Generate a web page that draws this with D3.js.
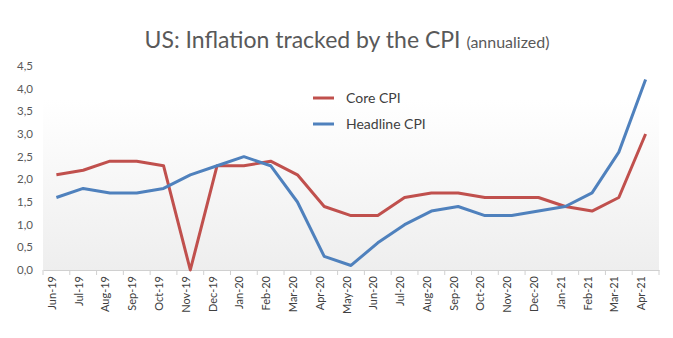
<!DOCTYPE html>
<html><head><meta charset="utf-8">
<script src="https://cdn.jsdelivr.net/npm/d3@7"></script>
<style>body{margin:0;background:#fff;} svg{display:block;font-family:Lato, "Open Sans", sans-serif;}</style>
</head><body>
<svg id="c" width="673" height="338"></svg>
<script>
const months = ["Jun-19","Jul-19","Aug-19","Sep-19","Oct-19","Nov-19","Dec-19","Jan-20","Feb-20","Mar-20","Apr-20","May-20","Jun-20","Jul-20","Aug-20","Sep-20","Oct-20","Nov-20","Dec-20","Jan-21","Feb-21","Mar-21","Apr-21"];
const coreCPI = [2.1,2.2,2.4,2.4,2.3,0.0,2.3,2.3,2.4,2.1,1.4,1.2,1.2,1.6,1.7,1.7,1.6,1.6,1.6,1.4,1.3,1.6,3.0];
const headlineCPI = [1.6,1.8,1.7,1.7,1.8,2.1,2.3,2.5,2.3,1.5,0.3,0.1,0.6,1.0,1.3,1.4,1.2,1.2,1.3,1.4,1.7,2.6,4.2];
const yTicks = [0,0.5,1.0,1.5,2.0,2.5,3.0,3.5,4.0,4.5];
const seriesNames = ["Core CPI","Headline CPI"];
const colors = ["#c0504d","#4f81bd"];

(function(){
const svg = d3.select("#c");
const pL = 43, pR = 659, pT = 66, pB = 270;
const x = d3.scaleBand().domain(months).range([pL, pR]);
const y = d3.scaleLinear().domain([0, 4.5]).range([pB, pT]);

const defs = svg.append("defs");
const g = defs.append("linearGradient").attr("id","bg").attr("x1",0).attr("y1",0).attr("x2",0).attr("y2",1);
g.append("stop").attr("offset","0%").attr("stop-color","#ffffff");
g.append("stop").attr("offset","100%").attr("stop-color","#eeeeee");
svg.append("rect").attr("x",pL).attr("y",100).attr("width",pR-pL).attr("height",pB-100).attr("fill","url(#bg)");

// title
const t = svg.append("text").attr("x",347).attr("y",48).attr("text-anchor","middle").attr("fill","#595959");
t.append("tspan").attr("font-size",23).text("US: Inflation tracked by the CPI ");
t.append("tspan").attr("font-size",16).text("(annualized)");

// y axis labels
svg.selectAll(".yl").data(yTicks).join("text")
  .attr("x",33).attr("y",d=>y(d)+4).attr("text-anchor","end")
  .attr("font-size",11.5).attr("fill","#595959")
  .text(d=>d3.format(".1f")(d).replace(".",","));

// x axis
const xa = svg.append("g").attr("transform",`translate(0,${pB})`)
  .call(d3.axisBottom(x).tickSize(0).tickPadding(0));
xa.select(".domain").attr("stroke","#d0d0d0");
xa.selectAll(".tick text").attr("font-size",11).attr("fill","#404040")
  .attr("font-family","Lato, sans-serif")
  .attr("transform","rotate(-90)").attr("text-anchor","end").attr("x",-6).attr("y",-4).attr("dy","0.32em");
// boundary ticks
const bounds = months.map(m=>x(m)).concat([pR]);
svg.selectAll(".bt").data(bounds).join("line")
  .attr("x1",d=>d).attr("x2",d=>d).attr("y1",pB).attr("y2",pB+5).attr("stroke","#d0d0d0");

const line = d3.line().x((d,i)=>x(months[i])+x.bandwidth()/2).y(d=>y(d));
[coreCPI, headlineCPI].forEach((s,k)=>{
  svg.append("path").attr("d",line(s)).attr("fill","none").attr("stroke",colors[k]).attr("stroke-width",3).attr("stroke-linejoin","round");
});

// legend
seriesNames.forEach((n,k)=>{
  const ly = 98 + k*26;
  svg.append("line").attr("x1",313).attr("x2",334).attr("y1",ly).attr("y2",ly).attr("stroke",colors[k]).attr("stroke-width",3);
  svg.append("text").attr("x",346).attr("y",ly+5).attr("font-size",14).attr("fill","#404040").text(n);
});
})();
</script>
</body></html>
